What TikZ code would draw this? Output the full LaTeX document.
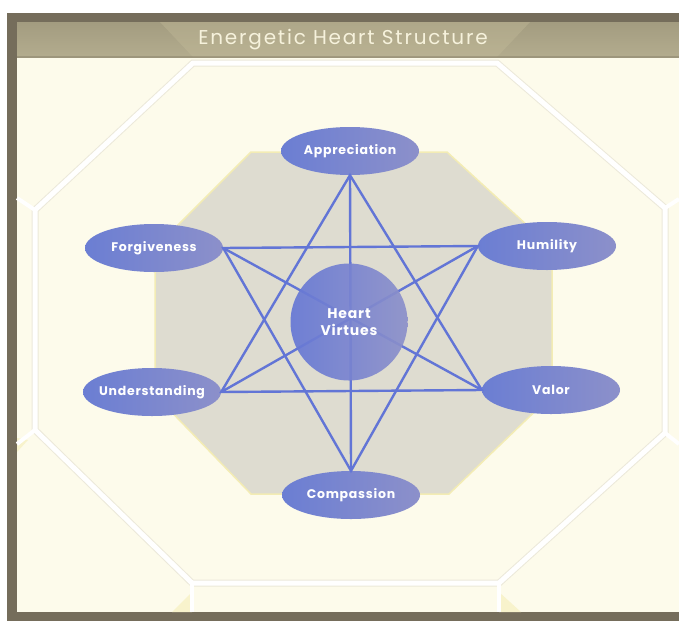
\documentclass[tikz,border=0pt]{standalone}
\usepackage{fontspec}
\setmainfont{Poppins}
\usepackage{tikz}
\usetikzlibrary{shapes.geometric}

\definecolor{frameDark}{HTML}{756D5B}
\definecolor{titleTop}{HTML}{A39C80}
\definecolor{titleBottom}{HTML}{B3AC8E}
\definecolor{titleLight}{HTML}{C6BE9C}
\definecolor{titleText}{HTML}{F6F2DC}
\definecolor{creamBg}{HTML}{FDFBEB}
\definecolor{tileEdge}{HTML}{ECE9DA}
\definecolor{tileCorner}{HTML}{F8F3CC}
\definecolor{octGray}{HTML}{DEDCD0}
\definecolor{octEdge}{HTML}{F3ECB4}
\definecolor{virtueLeft}{HTML}{6B7ED3}
\definecolor{virtueRight}{HTML}{8C90CA}
\definecolor{linkBlue}{HTML}{6275D6}

\begin{document}
\begin{tikzpicture}[
    x=1pt, y=-1pt,
    virtue/.style={ellipse, left color=virtueLeft, right color=virtueRight, draw=none,
        minimum width=138pt, minimum height=48pt, inner xsep=-8pt, inner ysep=0pt, text=white,
        font=\bfseries\fontsize{12.5}{14}\selectfont\addfontfeatures{LetterSpace=6}},
    core/.style={circle, left color=virtueLeft!95!blue, right color=virtueRight, draw=none,
        fill opacity=0.92, text opacity=1, minimum size=117pt, inner sep=0pt,
        align=center, text=white,
        font=\bfseries\fontsize{14}{17}\selectfont\addfontfeatures{LetterSpace=6}},
    link/.style={draw=linkBlue, line width=2.4pt},
    tileline/.style={draw=white, line width=5pt, line join=miter}]

% Canvas and frame
\useasboundingbox (0,0) rectangle (679,621);
\fill[white] (0,0) rectangle (679,621);
\fill[frameDark] (7,13) rectangle (679,621);
\fill[creamBg] (17,57) rectangle (679,612);

% Tile pattern
\fill[tileCorner] (192,592) -- (192,612) -- (172,612) -- cycle;
\fill[tileCorner] (499,592) -- (499,612) -- (521,612) -- cycle;
\fill[tileCorner] (17,438) -- (28,440) -- (17,452) -- cycle;
\draw[tileline, draw=tileEdge, line width=7pt] (193,63) -- (497,63) -- (665,208) -- (665,433)
    -- (499,583) -- (192,583) -- (35,430) -- (35,210) -- cycle;
\draw[tileline] (193,63) -- (497,63) -- (665,208) -- (665,433)
    -- (499,583) -- (192,583) -- (35,430) -- (35,210) -- cycle;
\draw[tileline, line width=4pt] (35,210) -- (17,198);
\draw[tileline, line width=4pt] (35,430) -- (17,444);
\draw[tileline, line width=4pt] (192,583) -- (192,612);
\draw[tileline, line width=4pt] (499,583) -- (499,612);
\draw[tileline, line width=4pt] (665,208) -- (679,199);
\draw[tileline, line width=4pt] (665,433) -- (679,444);

% Title bar
\shade[top color=titleTop, bottom color=titleBottom] (17,22) rectangle (679,57);
\fill[titleLight, opacity=0.35] (160,22) -- (530,22) -- (497,57) -- (193,57) -- cycle;
\fill[frameDark, opacity=0.35] (17,56) rectangle (679,58);
\node[font=\fontsize{20}{24}\selectfont\addfontfeatures{LetterSpace=9}, text=titleText]
    (title) at (343,40) {Energetic Heart Structure};

% Inner octagon
\filldraw[fill=octGray, draw=octEdge, line width=1.5pt] (251,152) -- (447,152) -- (552,248)
    -- (552,395) -- (449,494) -- (251,494) -- (155,395) -- (155,248) -- cycle;

% Virtues
\node[virtue] (appreciation) at (350,151) {Appreciation};
\node[virtue] (forgiveness) at (154,248) {Forgiveness};
\node[virtue] (humility) at (547,246) {Humility};
\node[virtue] (understanding) at (152,392) {Understanding};
\node[virtue] (valor) at (551,390) {Valor};
\node[virtue] (compassion) at (351,495) {Compassion};

% Links
\draw[link] (appreciation.south) -- (understanding.east) -- (valor.west) -- cycle;
\draw[link] (compassion.north) -- (forgiveness.east) -- (humility.west) -- cycle;
\draw[link] (appreciation.south) -- (compassion.north);
\draw[link] (forgiveness.east) -- (valor.west);
\draw[link] (humility.west) -- (understanding.east);

% Centre
\node[core] (heart) at (349,322) {Heart\\Virtues};
\end{tikzpicture}
\end{document}
